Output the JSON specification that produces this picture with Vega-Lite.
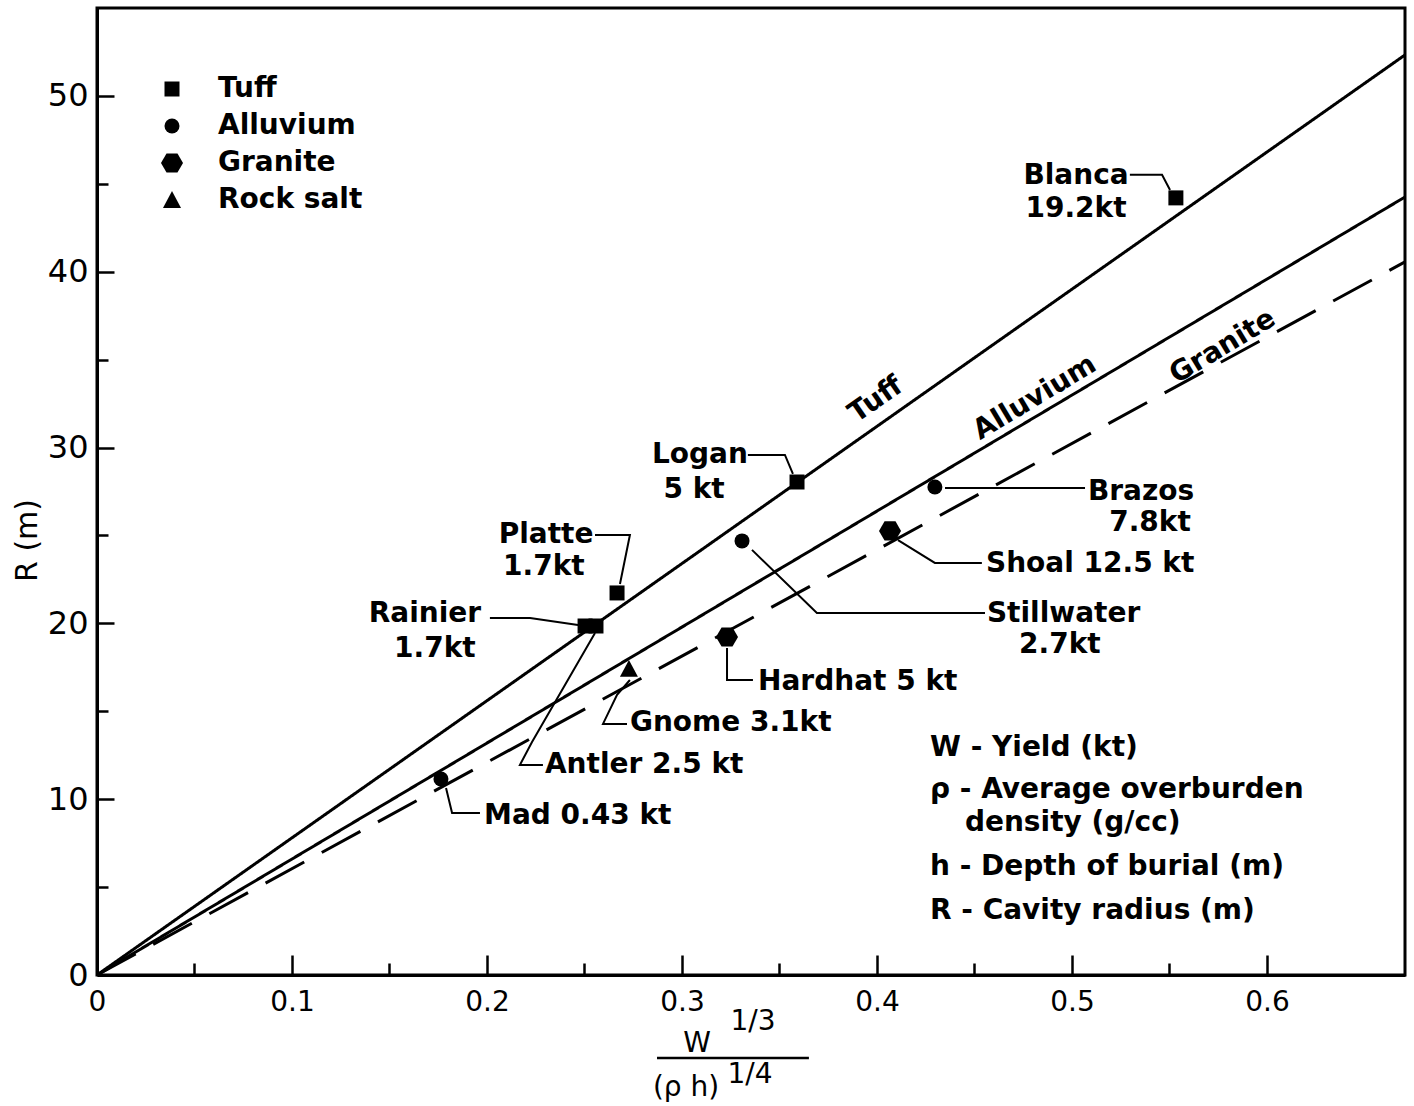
{
  "$schema": "https://vega.github.io/schema/vega-lite/v6.json",
  "width": 1308,
  "height": 967,
  "autosize": {"type": "none"},
  "padding": {"left": 97, "top": 8, "right": 9, "bottom": 131},
  "background": "white",
  "config": {
    "font": "DejaVu Sans",
    "view": {"stroke": "black", "strokeWidth": 3},
    "axis": {"grid": false}
  },
  "datasets": {
    "lines": [
      {"series": "Tuff", "x": 0, "y": 0},
      {"series": "Tuff", "x": 0.6708, "y": 52.33},
      {"series": "Alluvium", "x": 0, "y": 0},
      {"series": "Alluvium", "x": 0.6708, "y": 44.25},
      {"series": "Granite", "x": 0, "y": 0},
      {"series": "Granite", "x": 0.6708, "y": 40.56}
    ],
    "points": [
      {"event": "Blanca", "rock": "Tuff", "x": 0.5533, "y": 44.2},
      {"event": "Logan", "rock": "Tuff", "x": 0.359, "y": 28.04},
      {"event": "Platte", "rock": "Tuff", "x": 0.2667, "y": 21.73},
      {"event": "Rainier", "rock": "Tuff", "x": 0.2503, "y": 19.85},
      {"event": "Antler", "rock": "Tuff", "x": 0.2559, "y": 19.85},
      {"event": "Brazos", "rock": "Alluvium", "x": 0.4297, "y": 27.76},
      {"event": "Stillwater", "rock": "Alluvium", "x": 0.3308, "y": 24.69},
      {"event": "Mad", "rock": "Alluvium", "x": 0.1764, "y": 11.15},
      {"event": "Shoal", "rock": "Granite", "x": 0.4067, "y": 25.26},
      {"event": "Hardhat", "rock": "Granite", "x": 0.3231, "y": 19.23},
      {"event": "Gnome", "rock": "Rock salt", "x": 0.2728, "y": 17.41}
    ],
    "leaders": [
      {"event": "Blanca", "step": 1, "x": 0.5297, "y": 45.51},
      {"event": "Blanca", "step": 2, "x": 0.5462, "y": 45.51},
      {"event": "Blanca", "step": 3, "x": 0.5503, "y": 44.65},
      {"event": "Logan", "step": 1, "x": 0.3338, "y": 29.58},
      {"event": "Logan", "step": 2, "x": 0.3528, "y": 29.58},
      {"event": "Logan", "step": 3, "x": 0.3569, "y": 28.5},
      {"event": "Platte", "step": 1, "x": 0.2554, "y": 25.03},
      {"event": "Platte", "step": 2, "x": 0.2733, "y": 25.03},
      {"event": "Platte", "step": 3, "x": 0.2682, "y": 22.24},
      {"event": "Rainier", "step": 1, "x": 0.2015, "y": 20.31},
      {"event": "Rainier", "step": 2, "x": 0.2221, "y": 20.31},
      {"event": "Rainier", "step": 3, "x": 0.2467, "y": 19.91},
      {"event": "Antler", "step": 1, "x": 0.2287, "y": 11.95},
      {"event": "Antler", "step": 2, "x": 0.2169, "y": 11.95},
      {"event": "Antler", "step": 3, "x": 0.2231, "y": 13.25},
      {"event": "Antler", "step": 4, "x": 0.2554, "y": 19.45},
      {"event": "Gnome", "step": 1, "x": 0.2718, "y": 14.28},
      {"event": "Gnome", "step": 2, "x": 0.2595, "y": 14.28},
      {"event": "Gnome", "step": 3, "x": 0.2667, "y": 15.93},
      {"event": "Gnome", "step": 4, "x": 0.2733, "y": 16.78},
      {"event": "Mad", "step": 1, "x": 0.1964, "y": 9.22},
      {"event": "Mad", "step": 2, "x": 0.1821, "y": 9.22},
      {"event": "Mad", "step": 3, "x": 0.179, "y": 10.64},
      {"event": "Hardhat", "step": 1, "x": 0.3364, "y": 16.78},
      {"event": "Hardhat", "step": 2, "x": 0.3231, "y": 16.78},
      {"event": "Hardhat", "step": 3, "x": 0.3231, "y": 18.6},
      {"event": "Stillwater", "step": 1, "x": 0.4554, "y": 20.59},
      {"event": "Stillwater", "step": 2, "x": 0.3692, "y": 20.59},
      {"event": "Stillwater", "step": 3, "x": 0.3359, "y": 24.18},
      {"event": "Shoal", "step": 1, "x": 0.4538, "y": 23.44},
      {"event": "Shoal", "step": 2, "x": 0.4297, "y": 23.44},
      {"event": "Shoal", "step": 3, "x": 0.4108, "y": 24.74},
      {"event": "Brazos", "step": 1, "x": 0.5067, "y": 27.7},
      {"event": "Brazos", "step": 2, "x": 0.4349, "y": 27.7}
    ],
    "labelsCenter": [
      {"label": "Blanca", "x": 0.5021, "y": 45.45},
      {"label": "19.2kt", "x": 0.5021, "y": 43.57},
      {"label": "Logan", "x": 0.3092, "y": 29.58},
      {"label": "5 kt", "x": 0.3062, "y": 27.59},
      {"label": "Platte", "x": 0.2303, "y": 25.03},
      {"label": "1.7kt", "x": 0.2292, "y": 23.21},
      {"label": "Rainier", "x": 0.1682, "y": 20.53},
      {"label": "1.7kt", "x": 0.1733, "y": 18.54},
      {"label": "2.7kt", "x": 0.4938, "y": 18.77},
      {"label": "7.8kt", "x": 0.54, "y": 25.71}
    ],
    "labelsLeft": [
      {"label": "Antler 2.5 kt", "x": 0.2297, "y": 11.95},
      {"label": "Gnome 3.1kt", "x": 0.2733, "y": 14.33},
      {"label": "Mad 0.43 kt", "x": 0.1985, "y": 9.04},
      {"label": "Hardhat 5 kt", "x": 0.339, "y": 16.67},
      {"label": "Stillwater", "x": 0.4564, "y": 20.53},
      {"label": "Shoal 12.5 kt", "x": 0.4559, "y": 23.38},
      {"label": "Brazos", "x": 0.5082, "y": 27.47},
      {"label": "W - Yield (kt)", "x": 0.4272, "y": 12.91},
      {"label": "ρ - Average overburden", "x": 0.4272, "y": 10.52},
      {"label": "density (g/cc)", "x": 0.4451, "y": 8.65},
      {"label": "h - Depth of burial (m)", "x": 0.4272, "y": 6.14},
      {"label": "R - Cavity radius (m)", "x": 0.4272, "y": 3.64}
    ],
    "lineLabels": [
      {"label": "Tuff", "x": 0.3995, "y": 32.71},
      {"label": "Alluvium", "x": 0.481, "y": 32.82},
      {"label": "Granite", "x": 0.5774, "y": 35.72}
    ],
    "xTitle": [
      {"label": "W", "x": 0.3077, "y": -3.9},
      {"label": "1/3", "x": 0.3364, "y": -2.67},
      {"label": "(ρ h)", "x": 0.3021, "y": -6.43},
      {"label": "1/4", "x": 0.3349, "y": -5.69}
    ],
    "fractionBar": [
      {"x": 0.2872, "x2": 0.3651, "y": -4.72}
    ]
  },
  "resolve": {"axis": {"x": "independent", "y": "independent"}},
  "layer": [
    {
      "data": {"name": "lines"},
      "mark": {"type": "line", "color": "black", "strokeWidth": 3},
      "encoding": {
        "x": {
          "field": "x", "type": "quantitative",
          "scale": {"domain": [0, 0.6708], "nice": false, "zero": false},
          "axis": {"orient": "bottom", "values": [0, 0.1, 0.2, 0.3, 0.4, 0.5, 0.6], "format": ".1~f", "ticks": false, "domain": true, "domainColor": "black", "domainWidth": 3, "labelFontSize": 28, "labelColor": "black", "labelPadding": 13, "labelFlush": false, "title": null, "grid": false}
        },
        "y": {
          "field": "y", "type": "quantitative",
          "scale": {"domain": [0, 55], "nice": false, "zero": false},
          "axis": {"orient": "left", "values": [0, 10, 20, 30, 40, 50], "ticks": false, "domain": true, "domainColor": "black", "domainWidth": 3, "labelFontSize": 32, "labelColor": "black", "labelPadding": 9, "labelFlush": false, "title": "R (m)", "titleFontSize": 30, "titleFontWeight": "normal", "titleColor": "black", "titleAngle": -90, "titleX": -70, "titleY": 532, "titleAlign": "center", "titleBaseline": "middle", "grid": false}
        },
        "strokeDash": {"field": "series", "type": "nominal", "scale": {"domain": ["Tuff", "Alluvium", "Granite"], "range": [[1, 0], [1, 0], [44, 20]]}, "legend": null}
      }
    },
    {
      "data": {"name": "points"},
      "mark": {"type": "point", "filled": true, "color": "black", "opacity": 1, "strokeWidth": 0, "size": 225},
      "encoding": {
        "x": {
          "field": "x", "type": "quantitative",
          "scale": {"domain": [0, 0.6708], "nice": false, "zero": false},
          "axis": {"orient": "bottom", "values": [0.1, 0.2, 0.3, 0.4, 0.5, 0.6], "labels": false, "domain": false, "ticks": true, "tickSize": -20, "tickWidth": 2.5, "tickColor": "black", "title": null, "grid": false}
        },
        "y": {
          "field": "y", "type": "quantitative",
          "scale": {"domain": [0, 55], "nice": false, "zero": false},
          "axis": {"orient": "left", "values": [10, 20, 30, 40, 50], "labels": false, "domain": false, "ticks": true, "tickSize": -17, "tickWidth": 2.5, "tickColor": "black", "title": null, "grid": false}
        },
        "shape": {
          "field": "rock", "type": "nominal",
          "scale": {"domain": ["Tuff", "Alluvium", "Granite", "Rock salt"], "range": ["M-1,-1L1,-1L1,1L-1,1Z", "circle", "M-1.47,0L-0.73,-1.27L0.73,-1.27L1.47,0L0.73,1.27L-0.73,1.27Z", "M0,-1.2L1.2,1.05L-1.2,1.05Z"]},
          "legend": {"title": null, "orient": "none", "legendX": 61, "legendY": 67, "padding": 0, "symbolSize": 225, "labelFont": "DejaVu Sans", "labelFontSize": 28, "labelFontWeight": "bold", "labelColor": "black", "labelOffset": 32, "rowPadding": 9, "symbolFillColor": "black", "symbolStrokeColor": "black", "symbolStrokeWidth": 0}
        }
      }
    },
    {
      "data": {"name": "leaders"},
      "mark": {"type": "line", "color": "black", "strokeWidth": 2},
      "encoding": {
        "x": {
          "field": "x", "type": "quantitative",
          "scale": {"domain": [0, 0.6708], "nice": false, "zero": false},
          "axis": {"orient": "bottom", "values": [0.05, 0.15, 0.25, 0.35, 0.45, 0.55], "labels": false, "domain": false, "ticks": true, "tickSize": -12, "tickWidth": 2.5, "tickColor": "black", "title": null, "grid": false}
        },
        "y": {
          "field": "y", "type": "quantitative",
          "scale": {"domain": [0, 55], "nice": false, "zero": false},
          "axis": {"orient": "left", "values": [5, 15, 25, 35, 45], "labels": false, "domain": false, "ticks": true, "tickSize": -11, "tickWidth": 2.5, "tickColor": "black", "title": null, "grid": false}
        },
        "detail": {"field": "event", "type": "nominal"},
        "order": {"field": "step", "type": "quantitative"}
      }
    },
    {
      "data": {"name": "labelsCenter"},
      "mark": {"type": "text", "font": "DejaVu Sans", "fontSize": 28, "fontWeight": "bold", "color": "black", "align": "center", "baseline": "middle"},
      "encoding": {
        "x": {"field": "x", "type": "quantitative", "scale": {"domain": [0, 0.6708], "nice": false, "zero": false}, "axis": null},
        "y": {"field": "y", "type": "quantitative", "scale": {"domain": [0, 55], "nice": false, "zero": false}, "axis": null},
        "text": {"field": "label"}
      }
    },
    {
      "data": {"name": "labelsLeft"},
      "mark": {"type": "text", "font": "DejaVu Sans", "fontSize": 28, "fontWeight": "bold", "color": "black", "align": "left", "baseline": "middle"},
      "encoding": {
        "x": {"field": "x", "type": "quantitative", "scale": {"domain": [0, 0.6708], "nice": false, "zero": false}, "axis": null},
        "y": {"field": "y", "type": "quantitative", "scale": {"domain": [0, 55], "nice": false, "zero": false}, "axis": null},
        "text": {"field": "label"}
      }
    },
    {
      "data": {"name": "lineLabels"},
      "transform": [{"filter": "datum.label === 'Tuff'"}],
      "mark": {"type": "text", "font": "DejaVu Sans", "fontSize": 28, "fontWeight": "bold", "color": "black", "align": "center", "baseline": "middle", "angle": -35},
      "encoding": {
        "x": {"field": "x", "type": "quantitative", "scale": {"domain": [0, 0.6708], "nice": false, "zero": false}, "axis": null},
        "y": {"field": "y", "type": "quantitative", "scale": {"domain": [0, 55], "nice": false, "zero": false}, "axis": null},
        "text": {"field": "label"}
      }
    },
    {
      "data": {"name": "lineLabels"},
      "transform": [{"filter": "datum.label !== 'Tuff'"}],
      "mark": {"type": "text", "font": "DejaVu Sans", "fontSize": 28, "fontWeight": "bold", "color": "black", "align": "center", "baseline": "middle", "angle": -31},
      "encoding": {
        "x": {"field": "x", "type": "quantitative", "scale": {"domain": [0, 0.6708], "nice": false, "zero": false}, "axis": null},
        "y": {"field": "y", "type": "quantitative", "scale": {"domain": [0, 55], "nice": false, "zero": false}, "axis": null},
        "text": {"field": "label"}
      }
    },
    {
      "data": {"name": "xTitle"},
      "mark": {"type": "text", "font": "DejaVu Sans", "fontSize": 28, "fontWeight": "normal", "color": "black", "align": "center", "baseline": "middle"},
      "encoding": {
        "x": {"field": "x", "type": "quantitative", "scale": {"domain": [0, 0.6708], "nice": false, "zero": false}, "axis": null},
        "y": {"field": "y", "type": "quantitative", "scale": {"domain": [0, 55], "nice": false, "zero": false}, "axis": null},
        "text": {"field": "label"}
      }
    },
    {
      "data": {"name": "fractionBar"},
      "mark": {"type": "rule", "color": "black", "strokeWidth": 2.5},
      "encoding": {
        "x": {"field": "x", "type": "quantitative", "scale": {"domain": [0, 0.6708], "nice": false, "zero": false}, "axis": null},
        "x2": {"field": "x2"},
        "y": {"field": "y", "type": "quantitative", "scale": {"domain": [0, 55], "nice": false, "zero": false}, "axis": null}
      }
    }
  ]
}
